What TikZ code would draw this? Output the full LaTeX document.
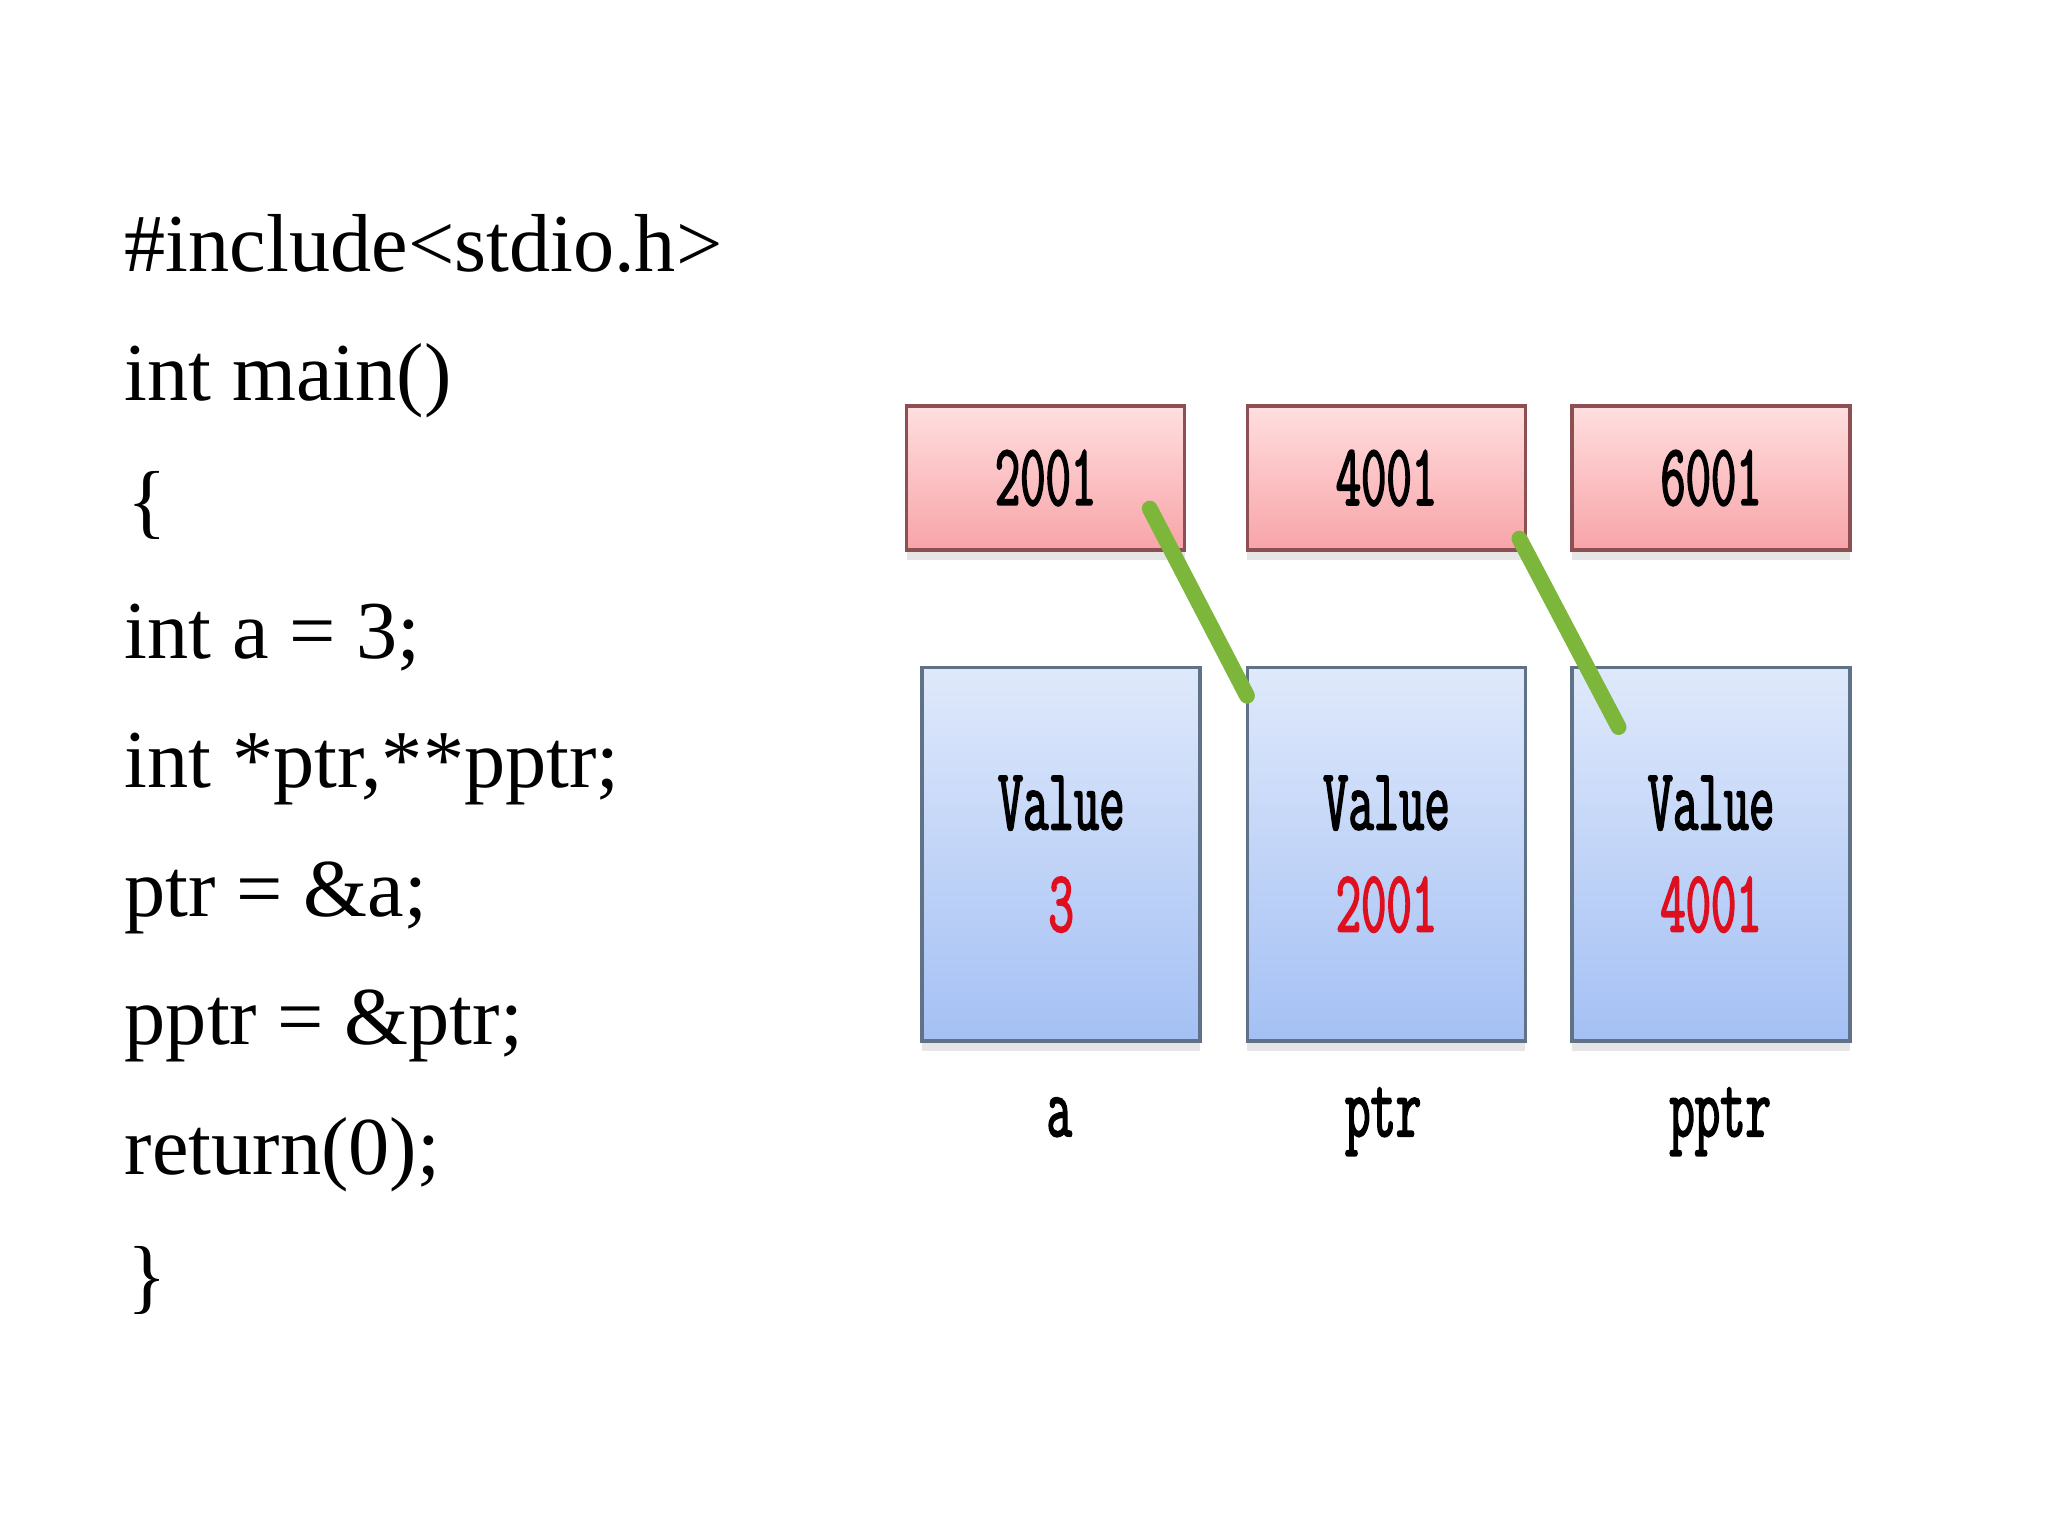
\documentclass[tikz,border=0pt]{standalone}
\usepackage{fontspec}
\setmainfont{Liberation Serif}
\newfontfamily\boxfont[FakeStretch=0.56,FakeBold=1.8]{Latin Modern Mono}
\usepackage{tikz}
\usetikzlibrary{positioning,shadows,calc}

\definecolor{addrtop}{RGB}{255,222,223}
\definecolor{addrbot}{RGB}{248,164,168}
\definecolor{addrline}{RGB}{140,80,82}
\definecolor{valtop}{RGB}{223,233,251}
\definecolor{valbot}{RGB}{164,192,244}
\definecolor{valline}{RGB}{96,114,136}
\definecolor{ptrgreen}{RGB}{124,182,58}
\definecolor{valred}{RGB}{222,16,32}

\tikzset{
  code/.style={anchor=base west, inner sep=0pt, font=\fontsize{23.4}{28}\selectfont},
  addr/.style={draw=addrline, line width=1pt, top color=addrtop, bottom color=addrbot,
    minimum width=2.78cm, minimum height=1.437cm, inner sep=0pt,
    font=\boxfont\fontsize{25}{30}\selectfont,
    drop shadow={opacity=0.2, shadow xshift=0pt, shadow yshift=-3pt}},
  val/.style={draw=valline, line width=1pt, top color=valtop, bottom color=valbot,
    minimum width=2.78cm, minimum height=3.735cm, inner sep=0pt, align=center,
    font=\boxfont\fontsize{25}{29}\selectfont,
    drop shadow={opacity=0.2, shadow xshift=0pt, shadow yshift=-3pt}},
  vname/.style={anchor=base, inner sep=0pt, font=\boxfont\fontsize{25}{30}\selectfont},
  ptr/.style={draw=ptrgreen, line width=4.5pt, line cap=round}
}

\begin{document}
\begin{tikzpicture}[x=0.01306cm, y=-0.01306cm]
\useasboundingbox (0,0) rectangle (1568,1175);

% the program
\node[code] (c1) at (95,208) {\#include<stdio.h>};
\node[code] (c2) at (95,307) {int main()};
\node[code] (c3) at (97,405) {\{};
\node[code] (c4) at (95,504) {int a = 3;};
\node[code] (c5) at (95,603) {int *ptr,**pptr;};
\node[code] (c6) at (95,702) {ptr = \&a;};
\node[code] (c7) at (95,800) {pptr = \&ptr;};
\node[code] (c8) at (95,899) {return(0);};
\node[code] (c9) at (97,998) {\}};

% addresses
\node[addr] (a1) at (800.5,366) {2001};
\node[addr] (a2) at (1061.5,366) {4001};
\node[addr] (a3) at (1310,366) {6001};

% values
\node[val] (v1) at (812.5,654) {Value\\\textcolor{valred}{3}};
\node[val] (v2) at (1061.5,654) {Value\\\textcolor{valred}{2001}};
\node[val] (v3) at (1310,654) {Value\\\textcolor{valred}{4001}};

% names
\node[vname] (n1) at (811,870) {a};
\node[vname] (n2) at (1059,870) {ptr};
\node[vname] (n3) at (1317,870) {pptr};

% pointers
\draw[ptr] ($(a1.south east)+(-28,-33)$) -- ($(v2.north west)+(1,23)$);
\draw[ptr] ($(a2.south east)+(-6,-10)$) -- ($(v3.north west)+(37,47)$);
\end{tikzpicture}
\end{document}
